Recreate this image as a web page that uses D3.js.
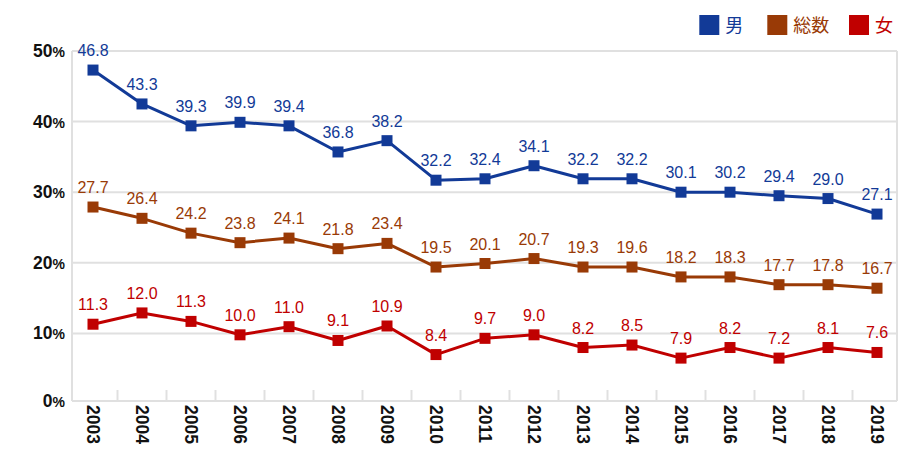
<!DOCTYPE html>
<html><head><meta charset="utf-8">
<script src="https://cdn.jsdelivr.net/npm/d3@7/dist/d3.min.js"></script>
<style>body{margin:0;background:#fff}svg{display:block}</style>
</head><body>
<svg id="c" width="921" height="461"></svg>
<script>
const years = ["2003","2004","2005","2006","2007","2008","2009","2010","2011","2012","2013","2014","2015","2016","2017","2018","2019"];
// plotted positions
const men   = [47.3,42.5,39.4,39.9,39.4,35.7,37.3,31.7,31.9,33.75,31.9,31.9,30.0,30.0,29.5,29.1,26.9];
const total = [27.9,26.3,24.2,22.85,23.5,22.0,22.75,19.4,19.9,20.6,19.4,19.4,18.0,18.0,16.9,16.9,16.4];
const women = [11.3,12.9,11.7,9.8,10.95,9.0,11.05,7.0,9.3,9.8,8.0,8.35,6.5,8.0,6.5,8.0,7.3];
// printed data labels
const menLabels   = ["46.8","43.3","39.3","39.9","39.4","36.8","38.2","32.2","32.4","34.1","32.2","32.2","30.1","30.2","29.4","29.0","27.1"];
const totalLabels = ["27.7","26.4","24.2","23.8","24.1","21.8","23.4","19.5","20.1","20.7","19.3","19.6","18.2","18.3","17.7","17.8","16.7"];
const womenLabels = ["11.3","12.0","11.3","10.0","11.0","9.1","10.9","8.4","9.7","9.0","8.2","8.5","7.9","8.2","7.2","8.1","7.6"];
const yTicks = [0,10,20,30,40,50];
const legendNames = ["男","総数","女"];

const colors = {men:"#123a97", total:"#993a06", women:"#c00000"};
const svg = d3.select("#c");
const x = d3.scaleBand().domain(years).range([68.5, 901.5]);
const y = d3.scaleLinear().domain([0,50]).range([404, 51]);
const left = 72, right = 897, bottom = 401;
const grid = "#e0e0e0";

// gridlines
svg.append("g").selectAll("line").data(yTicks.filter(d=>d>0)).join("line")
  .attr("x1",left).attr("x2",right).attr("y1",d=>y(d)).attr("y2",d=>y(d))
  .attr("stroke",grid).attr("stroke-width",2);
// frame
svg.append("line").attr("x1",left).attr("x2",right).attr("y1",bottom).attr("y2",bottom).attr("stroke",grid).attr("stroke-width",2);
svg.append("line").attr("x1",left).attr("x2",left).attr("y1",y(50)).attr("y2",bottom).attr("stroke",grid).attr("stroke-width",2);
svg.append("line").attr("x1",right).attr("x2",right).attr("y1",y(50)).attr("y2",bottom).attr("stroke",grid).attr("stroke-width",2);
// inside tick marks between categories
svg.append("g").selectAll("line").data(years.slice(1)).join("line")
  .attr("x1",d=>x(d)).attr("x2",d=>x(d)).attr("y1",bottom-11).attr("y2",bottom)
  .attr("stroke",grid).attr("stroke-width",2);

// y labels
const yl = svg.append("g").selectAll("text").data(yTicks).join("text")
  .attr("x",65).attr("y",d=>(d===0?bottom:y(d))+6)
  .attr("text-anchor","end").attr("font-family","Liberation Sans, Arial, sans-serif")
  .attr("font-weight","bold").attr("fill","#111");
yl.append("tspan").attr("font-size","17.5px").text(d=>d);
yl.append("tspan").attr("font-size","14px").text("%");

// x labels
svg.append("g").selectAll("text").data(years).join("text")
  .attr("transform",d=>`translate(${x(d)+x.bandwidth()/2},405) rotate(90)`)
  .attr("dy","0.35em").attr("text-anchor","start")
  .attr("font-family","Liberation Sans, Arial, sans-serif").attr("font-weight","bold")
  .attr("font-size","17.5px").attr("fill","#111").text(d=>d);

const cx = d => x(d)+x.bandwidth()/2;
const series = [
  {vals:men, labels:menLabels, color:colors.men},
  {vals:total, labels:totalLabels, color:colors.total},
  {vals:women, labels:womenLabels, color:colors.women}
];
const line = d3.line().x((d,i)=>cx(years[i])).y(d=>y(d));
series.forEach(s=>{
  svg.append("path").attr("d",line(s.vals)).attr("fill","none")
    .attr("stroke",s.color).attr("stroke-width",3).attr("stroke-linejoin","round");
  svg.append("g").selectAll("rect").data(s.vals).join("rect")
    .attr("x",(d,i)=>cx(years[i])-5.5).attr("y",d=>y(d)-5.5)
    .attr("width",11).attr("height",11).attr("fill",s.color);
  svg.append("g").selectAll("text").data(s.vals).join("text")
    .attr("x",(d,i)=>cx(years[i])).attr("y",d=>y(d)-14)
    .attr("text-anchor","middle").attr("font-family","Liberation Sans, Arial, sans-serif")
    .attr("font-size","16px").attr("fill",s.color).text((d,i)=>s.labels[i]);
});

// legend
const legX = [699.3, 767.3, 849];
const legColors = [colors.men, colors.total, colors.women];
const lg = svg.append("g");
legendNames.forEach((n,i)=>{
  lg.append("rect").attr("x",legX[i]).attr("y",15).attr("width",20).attr("height",20).attr("fill",legColors[i]);
  lg.append("text").attr("x",legX[i]+26).attr("y",31.5)
    .attr("font-family","Noto Sans CJK JP, sans-serif").attr("font-size","18px")
    .attr("fill",legColors[i]).text(n);
});
</script>
</body></html>
